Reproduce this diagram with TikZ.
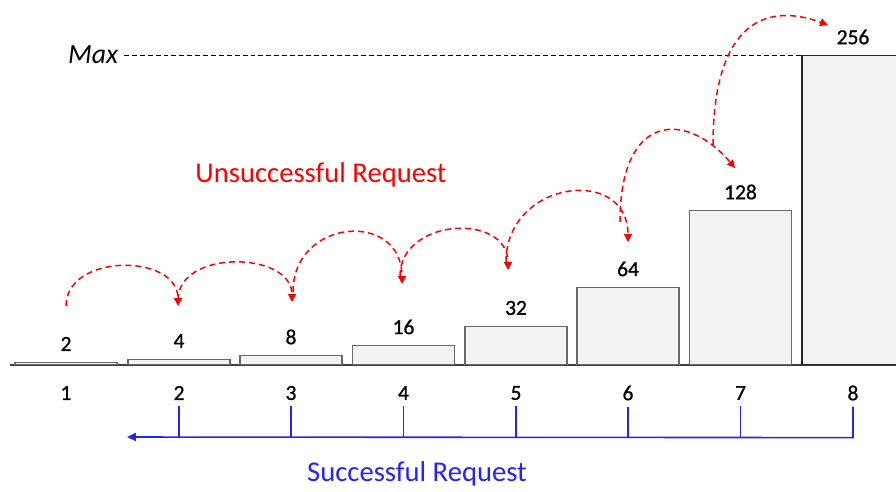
\documentclass[tikz,border=0pt]{standalone}
\usepackage{fontspec}
\setmainfont{Carlito}
\newfontfamily\numfont[RawFeature={embolden=0.9}]{Carlito}
\usetikzlibrary{arrows.meta,calc}
\definecolor{barfill}{HTML}{F2F2F2}
\definecolor{barline}{HTML}{6A6A6A}
\definecolor{reqred}{HTML}{FF0000}
\definecolor{reqblue}{HTML}{2323FF}
\begin{document}
\begin{tikzpicture}[x=0.02cm,y=-0.02cm,
  bar/.style={draw=barline, fill=barfill, line width=0.6pt, minimum width=2.04cm, inner sep=0pt, anchor=south},
  val/.style={font=\numfont\fontsize{12.2}{14}\selectfont, text=black},
  idx/.style={font=\numfont\fontsize{12.2}{14}\selectfont, text=black},
  label/.style={font=\fontsize{16.3}{19}\selectfont, anchor=base},
  hop/.style={draw=reqred, line width=0.85pt, dash pattern=on 3.4pt off 2.3pt,
    -{Triangle[length=4.5pt,width=4.5pt]}},
  ok/.style={draw=reqblue, line width=0.9pt},
  maxline/.style={draw=black, line width=0.55pt, dash pattern=on 2.8pt off 1.7pt},
  baseline/.style={draw=black!75, line width=0.7pt}
]
\clip (0,0) rectangle (896,491);

% baseline
\draw[baseline] (10,365) -- (896,365);

% bars
\node[bar, minimum height=0.04cm] (b1) at (66,365) {};
\node[bar, minimum height=0.10cm] (b2) at (179,365) {};
\node[bar, minimum height=0.18cm] (b3) at (291,365) {};
\node[bar, minimum height=0.38cm] (b4) at (403.5,365) {};
\node[bar, minimum height=0.76cm] (b5) at (516,365) {};
\node[bar, minimum height=1.54cm] (b6) at (628,365) {};
\node[bar, minimum height=3.08cm] (b7) at (740.5,365) {};
\node[bar, draw=black!85, minimum height=6.18cm] (b8) at (853,365) {};

% values above bars
\foreach \i/\v in {1/2,2/4,3/8,4/16,5/32,6/64,7/128,8/256}{
  \node[val] (v\i) at ($(b\i.north)+(0,-18)$) {\v};
  \node[idx] (i\i) at ($(b\i.south)+(0,28)$) {\i};
}

% Max line
\node[label, anchor=base east, inner sep=3pt, font=\fontsize{15.8}{19}\selectfont] (max) at (124,63) {\textit{Max}};
\draw[maxline] (max.east |- b8.north) -- (b8.north west);

% unsuccessful hops
\coordinate (h1s) at (66,306);  \coordinate (h1e) at (178,306);
\coordinate (h2s) at (178,300); \coordinate (h2e) at (292,302);
\coordinate (h3s) at (293,292); \coordinate (h3e) at (402,284);
\coordinate (h4s) at (400,276); \coordinate (h4e) at (508,270);
\coordinate (h5s) at (506,262); \coordinate (h5e) at (628,242);
\coordinate (h6s) at (620,222); \coordinate (h6e) at (735,168);
\coordinate (h7s) at (713,145); \coordinate (h7e) at (828,25);
\draw[hop] (h1s) .. controls +(0,-53) and +(0,-53) .. (h1e);
\draw[hop] (h2s) .. controls +(0,-51) and +(0,-51) .. (h2e);
\draw[hop] (h3s) .. controls +(0,-74) and +(0,-74) .. (h3e);
\draw[hop] (h4s) .. controls +(0,-58) and +(0,-58) .. (h4e);
\draw[hop] (h5s) .. controls +(0,-82) and +(0,-77) .. (h5e);
\draw[hop] (h6s) .. controls +(0,-112) and +(-47,-56) .. (h6e);
\draw[hop] (h7s) .. controls +(0,-115) and +(-68,-25) .. (h7e);

\node[label, text=reqred] (unsucc) at (321,182) {Unsuccessful Request};

% successful path
\coordinate (t8) at ($(i8.south)+(0,31)$);
\coordinate (tip) at (127,437);
\foreach \i in {2,...,7}{
  \draw[ok] (i\i.south) -- (i\i.south |- t8);
}
\draw[ok, -{Triangle[length=5pt,width=4.5pt]}] (i8.south) -- (t8) -- (tip);

\node[label, text=reqblue] (succ) at (417,481) {Successful Request};
\end{tikzpicture}
\end{document}
